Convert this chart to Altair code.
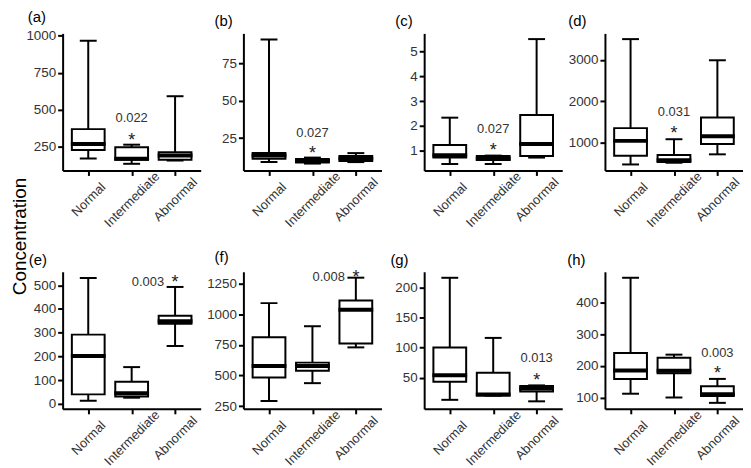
import altair as alt
import pandas as pd

groups = ["Normal", "Intermediate", "Abnormal"]
panels = ["(a)", "(b)", "(c)", "(d)", "(e)", "(f)", "(g)", "(h)"]

# box statistics: [Normal, Intermediate, Abnormal]
mins = {
    "(a)": [172, 136, 158], "(b)": [9, 8, 9], "(c)": [0.46, 0.46, 0.72], "(d)": [460, 502, 706],
    "(e)": [13, 26, 244], "(f)": [293, 438, 729], "(g)": [13, 20, 10.5], "(h)": [112, 100, 83],
}
q1s = {
    "(a)": [229, 163, 163], "(b)": [11.2, 8.8, 9.7], "(c)": [0.72, 0.62, 0.78], "(d)": [673, 518, 959],
    "(e)": [40, 31, 338], "(f)": [484, 538, 761], "(g)": [43, 20, 27], "(h)": [159, 177, 105],
}
meds = {
    "(a)": [270, 170, 192], "(b)": [13.4, 9.7, 11.4], "(c)": [0.81, 0.67, 1.27], "(d)": [1033, 560, 1147],
    "(e)": [202, 45, 348], "(f)": [578, 578, 1035], "(g)": [54, 22, 32], "(h)": [186, 185, 110],
}
q3s = {
    "(a)": [370, 247, 214], "(b)": [15, 11, 13], "(c)": [1.23, 0.78, 2.44], "(d)": [1343, 690, 1604],
    "(e)": [292, 93, 372], "(f)": [812, 605, 1110], "(g)": [100, 58, 36], "(h)": [241, 226, 136],
}
maxs = {
    "(a)": [967, 265, 592], "(b)": [91, 12, 15], "(c)": [2.33, 0.8, 5.5], "(d)": [3506, 1073, 2992],
    "(e)": [531, 155, 493], "(f)": [1089, 901, 1296], "(g)": [216, 116, 37], "(h)": [480, 236, 159],
}

y_domains = {
    "(a)": [91, 1016], "(b)": [3.4, 95], "(c)": [0.2, 5.73], "(d)": [314, 3645],
    "(e)": [-21, 557], "(f)": [229, 1344], "(g)": [-2, 226], "(h)": [64, 499],
}
y_ticks = {
    "(a)": [250, 500, 750, 1000], "(b)": [25, 50, 75], "(c)": [1, 2, 3, 4, 5], "(d)": [1000, 2000, 3000],
    "(e)": [0, 100, 200, 300, 400, 500], "(f)": [250, 500, 750, 1000, 1250],
    "(g)": [50, 100, 150, 200], "(h)": [100, 200, 300, 400],
}

p_labels = ["0.022", "0.027", "0.027", "0.031", "0.003", "0.008", "0.013", "0.003"]
p_groups = ["Intermediate", "Intermediate", "Intermediate", "Intermediate",
            "Abnormal", "Abnormal", "Abnormal", "Abnormal"]
p_y = [443, 28.3, 1.88, 1727, 515, 1304, 82, 242]
star_y = [332, 18.6, 1.22, 1343, 536, 1344, 54, 194]
side_label_panels = ["(e)", "(f)"]

# horizontal shift of each panel letter relative to its y axis (layout only)
title_dx = [-35, -29, -29, -37, -34, -29, -34, -38]

FONT = "Liberation Sans"
LABEL_COLOR = "#333333"


def make_panel(i, p):
    df = pd.DataFrame({
        "group": groups, "lo": mins[p], "q1": q1s[p], "med": meds[p], "q3": q3s[p], "hi": maxs[p],
    })
    ann = pd.DataFrame({"group": [p_groups[i]], "py": [p_y[i]], "sy": [star_y[i]], "label": [p_labels[i]]})

    xenc = alt.X(
        "group:N", sort=groups, title=None,
        scale=alt.Scale(type="point", padding=0.59),
        axis=alt.Axis(labelAngle=-45, labelAlign="center", labelBaseline="middle",
                      labelPadding=24, labelOverlap=False, labelFontSize=13),
    )
    if p == "(a)":
        yaxis = alt.Axis(values=y_ticks[p], format="d", title="Concentration", titleX=-52, titleY=204,
                         titleAngle=270, titleAlign="center", titleBaseline="top",
                         titleFontSize=19, titleFontWeight="normal", titleColor="black", titleFont=FONT)
    else:
        yaxis = alt.Axis(values=y_ticks[p], format="d", title=None)
    yscale = alt.Scale(domain=y_domains[p], nice=False, zero=False)

    def Y(field):
        return alt.Y(field, type="quantitative", scale=yscale, axis=yaxis,
                     title="Concentration" if p == "(a)" else None)

    base = alt.Chart(df)
    whisk = base.mark_rule(color="black", strokeWidth=2).encode(x=xenc, y=Y("lo"), y2="hi:Q")
    box = base.mark_bar(size=33, fill="white", stroke="black", strokeWidth=2, opacity=1).encode(
        x=xenc, y=Y("q1"), y2="q3:Q")
    med = base.mark_tick(size=35, thickness=4, color="black", opacity=1).encode(x=xenc, y=Y("med"))
    lo_cap = base.mark_tick(size=17, thickness=2, color="black", opacity=1).encode(x=xenc, y=Y("lo"))
    hi_cap = base.mark_tick(size=17, thickness=2, color="black", opacity=1).encode(x=xenc, y=Y("hi"))

    if p in side_label_panels:
        ptext = alt.Chart(ann).mark_text(align="right", baseline="middle", dx=-11, fontSize=13,
                                         color=LABEL_COLOR, font=FONT)
    else:
        ptext = alt.Chart(ann).mark_text(align="center", baseline="middle", fontSize=13,
                                         color=LABEL_COLOR, font=FONT)
    ptext = ptext.encode(x=xenc, y=Y("py"), text="label:N")
    star = alt.Chart(ann).mark_text(text="*", align="center", baseline="alphabetic", dy=11,
                                    fontSize=18, color="#222222", font=FONT).encode(x=xenc, y=Y("sy"))

    return alt.layer(whisk, box, med, lo_cap, hi_cap, ptext, star).properties(
        width=139, height=138,
        title=alt.TitleParams(p, anchor="start", frame="group", dx=title_dx[i], offset=-8,
                              baseline="alphabetic", fontSize=15, fontWeight="normal",
                              font=FONT, color="black"),
    )


charts = [make_panel(i, p) for i, p in enumerate(panels)]

chart = alt.concat(
    *charts, columns=4, spacing={"row": 102, "column": 43}, bounds="flush"
).properties(
    padding={"left": 3, "top": 0, "right": 0, "bottom": 0}
).configure(font=FONT).configure_view(stroke=None).configure_axis(
    domainColor="black", domainWidth=2, tickColor="black", tickWidth=2, tickSize=5,
    labelColor=LABEL_COLOR, labelFont=FONT, labelFontSize=13.5, labelPadding=2, grid=False,
)

chart.save("out.html", embed_options={"renderer": "svg", "actions": False})
